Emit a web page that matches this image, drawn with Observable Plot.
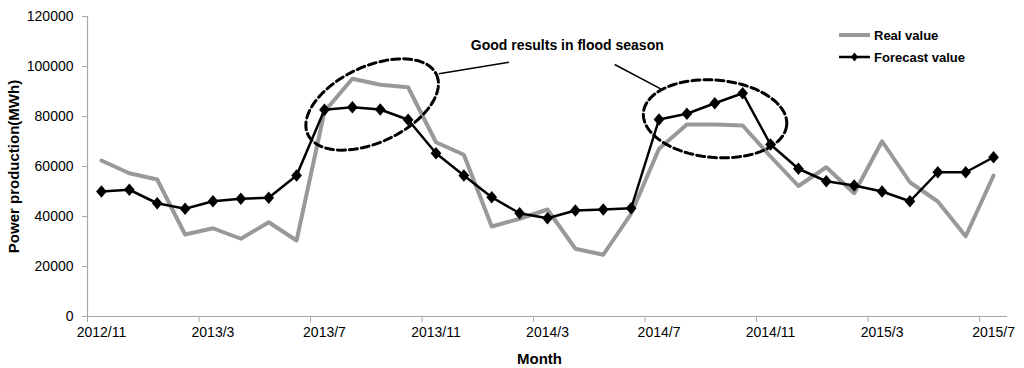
<!DOCTYPE html>
<html>
<head>
<meta charset="utf-8">
<script src="https://cdn.jsdelivr.net/npm/d3@7"></script>
<script src="https://cdn.jsdelivr.net/npm/@observablehq/plot@0.6"></script>
<style>
  body { margin: 0; background: #fff; font-family: "Liberation Sans", Arial, sans-serif; }
  #wrap { position: relative; width: 1024px; height: 368px; }
  #legend { position: absolute; left: 839px; top: 24px; font-weight: bold; font-size: 13px; color: #000; }
  #legend .row { display: flex; align-items: center; height: 22px; }
  #legend svg { margin-right: 3px; }
</style>
</head>
<body>
<div id="wrap">
  <div id="chart"></div>
  <div id="legend"></div>
</div>
<script>
// ---- data ----
const months = ["2012/11","2012/12","2013/1","2013/2","2013/3","2013/4","2013/5","2013/6","2013/7","2013/8","2013/9","2013/10",
  "2013/11","2013/12","2014/1","2014/2","2014/3","2014/4","2014/5","2014/6","2014/7","2014/8","2014/9","2014/10",
  "2014/11","2014/12","2015/1","2015/2","2015/3","2015/4","2015/5","2015/6","2015/7"];
const realValues = [62400,57300,54800,32800,35300,31100,37700,30400,82000,95100,92700,91700,69700,64700,36000,39100,
  42800,27100,24700,41100,67100,76800,76800,76400,64000,52200,59700,49300,70100,53700,46000,32100,56400];
const forecastValues = [50000,50700,45300,43100,46100,47100,47500,56400,82700,83700,82800,78700,65300,56400,47700,41300,
  39300,42400,42800,43300,78800,81100,85300,89300,68800,59100,54100,52400,50000,46100,57700,57700,63700];
const yTicks = [0,20000,40000,60000,80000,100000,120000];
const seriesNames = ["Real value", "Forecast value"];
const annotationText = "Good results in flood season";
// annotation geometry (in data units: month index, MWh)
const ellipses = [
  {cx: 9.71, cy: 84800, ux: 2.307, uy: 12000, vx: 0.578, vy: -13770},
  {cx: 22.01, cy: 79080, ux: 2.570, uy: -2456, vx: -0.118, vy: -15420}
];
const leaders = [
  {x1: 12.105, y1: 97080, x2: 14.617, y2: 101720},
  {x1: 18.41, y1: 100800, x2: 20.06, y2: 91080}
];
const annotationPos = [{x: 16.71, y: 108400, t: annotationText}];

// ---- build ----
const data = months.map((m, i) => ({i, m, real: realValues[i], forecast: forecastValues[i]}));
const labelIdx = months.map((_, i) => i).filter(i => i % 4 === 0);
const ellipsePts = ellipses.flatMap((e, k) => d3.range(0, 97).map(j => {
  const t = j / 96 * 2 * Math.PI;
  return {k, x: e.cx + e.ux * Math.cos(t) + e.vx * Math.sin(t), y: e.cy + e.uy * Math.cos(t) + e.vy * Math.sin(t)};
}));

const gray = "#999999";
const axisGray = "#a6a6a6";
const font = '"Liberation Sans", Arial, sans-serif';

// small rhombus marker
const rhombus = {
  draw(context, size) {
    const w = Math.sqrt(size) * 0.55, h = Math.sqrt(size) * 0.65;
    context.moveTo(0, -h); context.lineTo(w, 0); context.lineTo(0, h); context.lineTo(-w, 0); context.closePath();
  }
};

const chart = Plot.plot({
  width: 1024,
  height: 368,
  marginLeft: 87,
  marginRight: 17,
  marginTop: 16,
  marginBottom: 52,
  style: {fontFamily: font, fontSize: "14px", color: "#000", background: "#fff"},
  x: {domain: [-0.5, 32.5]},
  y: {domain: [0, 120000]},
  marks: [
    Plot.axisY({ticks: yTicks, tickSize: 5, tickPadding: 9, tickFormat: d => String(d), stroke: axisGray, label: null, fontSize: 14}),
    Plot.axisX({ticks: labelIdx.map(i => i - 0.5), tickSize: 6, tickFormat: () => "", stroke: axisGray, label: null}),
    Plot.axisX({ticks: labelIdx, tickSize: 0, tickPadding: 11, tickFormat: i => months[i], label: null, fontSize: 14}),
    Plot.ruleY([0], {stroke: axisGray, strokeWidth: 1.2}),
    Plot.ruleX([-0.5], {stroke: axisGray, strokeWidth: 1.2}),
    Plot.text(["Power production(MWh)"], {frameAnchor: "left", textAnchor: "middle", rotate: -90, dx: -73, fontWeight: "bold", fontSize: 15}),
    Plot.text(["Month"], {frameAnchor: "bottom", dy: 47, dx: -8, fontWeight: "bold", fontSize: 15}),
    Plot.line(data, {x: "i", y: "real", stroke: gray, strokeWidth: 4, strokeLinejoin: "round"}),
    Plot.line(data, {x: "i", y: "forecast", stroke: "#000", strokeWidth: 2.5}),
    Plot.dot(data, {x: "i", y: "forecast", symbol: rhombus, r: 5.5, fill: "#000", stroke: "none"}),
    Plot.line(ellipsePts, {x: "x", y: "y", z: "k", stroke: "#000", strokeWidth: 3, strokeDasharray: "8,4"}),
    Plot.link(leaders, {x1: "x1", y1: "y1", x2: "x2", y2: "y2", stroke: "#000", strokeWidth: 1.5}),
    Plot.text(annotationPos, {x: "x", y: "y", text: "t", fontWeight: "bold", fontSize: 14})
  ]
});
document.getElementById("chart").appendChild(chart);

// legend
const legend = document.getElementById("legend");
legend.innerHTML = `
  <div class="row"><svg width="32" height="14"><line x1="0" y1="7" x2="31" y2="7" stroke="${gray}" stroke-width="4"/></svg><span>${seriesNames[0]}</span></div>
  <div class="row"><svg width="32" height="14"><line x1="0" y1="7" x2="31" y2="7" stroke="#000" stroke-width="2.5"/><path d="M15.5,2.5 L19,7 L15.5,11.5 L12,7 Z" fill="#000"/></svg><span>${seriesNames[1]}</span></div>`;
</script>
</body>
</html>
